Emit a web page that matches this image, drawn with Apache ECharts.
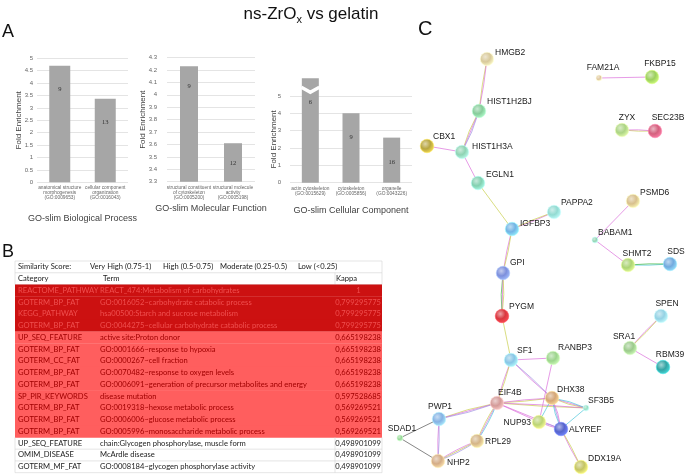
<!DOCTYPE html>
<html><head><meta charset="utf-8">
<script src="https://cdn.jsdelivr.net/npm/echarts@6/dist/echarts.min.js"></script>
<style>html,body{margin:0;padding:0;background:#fff}#c{width:685px;height:476px}</style>
</head><body><div id="c"></div>
<script>
// ---------- Panel A data ----------
const bpCategories = ['anatomical structure\nmorphogenesis\n(GO:0009653)', 'cellular component\norganization\n(GO:0016043)'];
const bpFold = [4.7, 3.37];
const bpCounts = [9, 13];
const mfCategories = ['structural constituent\nof cytoskeleton\n(GO:0005200)', 'structural molecule\nactivity\n(GO:0005198)'];
const mfFold = [4.23, 3.61];
const mfCounts = [9, 12];
const ccCategories = ['actin cytoskeleton\n(GO:0015629)', 'cytoskeleton\n(GO:0005856)', 'organelle\n(GO:0043226)'];
const ccFold = [6.03, 4.01, 2.6];
const ccCounts = [6, 9, 16];
const ccBreakAt = [[0, 5.5]];

// ---------- Panel B data ----------
const simLegend = ['Similarity Score:', 'Very High (0.75-1)', 'High (0.5-0.75)', 'Moderate (0.25-0.5)', 'Low (<0.25)'];
const tableHeader = ['Category', 'Term', 'Kappa'];
const tableCategory = ['REACTOME_PATHWAY','GOTERM_BP_FAT','KEGG_PATHWAY','GOTERM_BP_FAT','UP_SEQ_FEATURE','GOTERM_BP_FAT','GOTERM_CC_FAT','GOTERM_BP_FAT','GOTERM_BP_FAT','SP_PIR_KEYWORDS','GOTERM_BP_FAT','GOTERM_BP_FAT','GOTERM_BP_FAT','UP_SEQ_FEATURE','OMIM_DISEASE','GOTERM_MF_FAT'];
const tableTerm = ['REACT_474:Metabolism of carbohydrates','GO:0016052~carbohydrate catabolic process','hsa00500:Starch and sucrose metabolism','GO:0044275~cellular carbohydrate catabolic process','active site:Proton donor','GO:0001666~response to hypoxia','GO:0000267~cell fraction','GO:0070482~response to oxygen levels','GO:0006091~generation of precursor metabolites and energy','disease mutation','GO:0019318~hexose metabolic process','GO:0006006~glucose metabolic process','GO:0005996~monosaccharide metabolic process','chain:Glycogen phosphorylase, muscle form','McArdle disease','GO:0008184~glycogen phosphorylase activity'];
const tableKappa = [1,0.799295775,0.799295775,0.799295775,0.665198238,0.665198238,0.665198238,0.665198238,0.665198238,0.597528685,0.569269521,0.569269521,0.569269521,0.498901099,0.498901099,0.498901099];

// ---------- Panel C data ----------
const nodeNames = ['HMGB2','HIST1H2BJ','CBX1','HIST1H3A','EGLN1','PAPPA2','IGFBP3','GPI','PYGM','SF1','RANBP3','EIF4B','DHX38','SF3B5','PWP1','NUP93','ALYREF','SDAD1','RPL29','NHP2','DDX19A','FAM21A','FKBP15','ZYX','SEC23B','PSMD6','BABAM1','SHMT2','SDS','SPEN','SRA1','RBM39'];
const nodeLayout = [[487,59],[479,111],[427,146],[462,152],[478,183],[554,212],[512,229],[503,273],[502,316],[511,360],[553,358],[497,403],[552,398],[586,408],[439,419],[539,422],[561,429],[400,438],[477,441],[438,461],[581,467],[599,78],[652,77],[622,130],[655,131],[633,201],[595,240],[628,265],[670,264],[661,316],[630,348],[663,367]];
const smallNodes = ['SDAD1','SF3B5','FAM21A','BABAM1'];
const interactions = [
 ['HMGB2','HIST1H2BJ','yp'],['HIST1H2BJ','HIST1H3A','ypv'],['CBX1','HIST1H3A','p'],['HIST1H3A','EGLN1','p'],
 ['EGLN1','IGFBP3','y'],['IGFBP3','PAPPA2','py'],['IGFBP3','GPI','py'],['GPI','PYGM','gpy'],['PYGM','SF1','y'],
 ['SF1','RANBP3','p'],['SF1','EIF4B','py'],['SF1','DHX38','pv'],['RANBP3','NUP93','p'],['EIF4B','DHX38','yp'],
 ['EIF4B','SF3B5','yp'],['EIF4B','NUP93','p'],['EIF4B','ALYREF','p'],['EIF4B','PWP1','ypv'],['EIF4B','RPL29','ypc'],
 ['PWP1','NHP2','pv'],['RPL29','NHP2','pyv'],['SDAD1','PWP1','k'],['SDAD1','NHP2','k'],['DHX38','NUP93','c'],
 ['DHX38','SF3B5','ypc'],['DHX38','ALYREF','cvp'],['SF3B5','ALYREF','c'],['NUP93','ALYREF','pv'],['ALYREF','DDX19A','py'],
 ['FAM21A','FKBP15','p'],['ZYX','SEC23B','yp'],['PSMD6','BABAM1','p'],['BABAM1','SHMT2','p'],['SHMT2','SDS','cg'],
 ['SPEN','SRA1','py'],['SRA1','RBM39','p']
];

// ---------- styles ----------
const nodeColors = ['#d8c99a','#86cc9a','#b8a640','#8ed3b3','#82d0b0','#92dbd2','#72b4e4','#7c8fdc','#d83840','#88c6e6','#9cd48c','#d49a98','#d4a676','#98e0c4','#84b2e4','#bcd474','#5664cc','#98d898','#d4b486','#d4ac86','#c4c464','#e0c8a0','#9ccf5e','#acd484','#d4607e','#d8c08c','#94d4b4','#acd474','#72aade','#94d2e4','#9cca8c','#34a4a4'];
const labelPlace = {
 HMGB2:[8,-6,'left'],HIST1H2BJ:[8,-9,'left'],CBX1:[6,-9,'left'],HIST1H3A:[10,-5,'left'],EGLN1:[8,-8,'left'],
 PAPPA2:[7,-9,'left'],IGFBP3:[8,-5,'left'],GPI:[7,-10,'left'],PYGM:[7,-9,'left'],SF1:[6,-9,'left'],RANBP3:[5,-10,'left'],
 EIF4B:[1,-10,'left'],DHX38:[5,-8,'left'],SF3B5:[2,-7,'left'],PWP1:[1,-12,'center'],NUP93:[-8,1,'right'],
 ALYREF:[8,1,'left'],SDAD1:[2,-9,'center'],RPL29:[8,1,'left'],NHP2:[9,2,'left'],DDX19A:[7,-8,'left'],
 FAM21A:[4,-10,'center'],FKBP15:[8,-13,'center'],ZYX:[5,-12,'center'],SEC23B:[13,-13,'center'],PSMD6:[7,-8,'left'],
 BABAM1:[3,-7,'left'],SHMT2:[9,-11,'center'],SDS:[6,-12,'center'],SPEN:[6,-12,'center'],SRA1:[-6,-11,'center'],RBM39:[7,-12,'center']
};
const evidenceColor = {p:'#d96ad9', y:'#c6cd45', c:'#45c4d8', v:'#9c8ee0', g:'#3cb43c', k:'#4a4a4a'};

const SANS = 'Liberation Sans, Arial, sans-serif';
const lift = echarts.color.lift;
const chart = echarts.init(document.getElementById('c'));

function barPanel(i, cats, vals, counts, yMin, yMax, yInt, xName, xGap, yGap, lblMargin, barW, lblDist, clip) {
  return {
    x: {gridIndex:i, type:'category', data:cats, axisLine:{show:false}, axisTick:{show:false},
        axisLabel:{interval:0, fontSize:4.8, lineHeight:5, color:'#666', margin:3, fontFamily:SANS},
        name:xName, nameLocation:'middle', nameGap:xGap, nameMoveOverlap:false,
        nameTextStyle:{fontSize:9, color:'#404040', fontFamily:SANS}},
    y: {gridIndex:i, type:'value', min:yMin, max:yMax, interval:yInt, axisLine:{show:false}, axisTick:{show:false},
        axisLabel:{fontSize:6, color:'#666', margin:lblMargin, fontFamily:SANS},
        splitLine:{lineStyle:{color:'#e4e4e4', width:1}},
        name:'Fold Enrichment', nameLocation:'middle', nameRotate:90, nameGap:yGap, nameMoveOverlap:false,
        nameTextStyle:{fontSize:8, color:'#404040', fontFamily:SANS}},
    s: {type:'bar', xAxisIndex:i, yAxisIndex:i, data:vals, barWidth:barW, clip:clip,
        itemStyle:{color:'#a6a6a6'}, silent:true,
        label:{show:true, position:'insideTop', distance:lblDist, fontSize:6.5, color:'#333',
               fontFamily:'Liberation Serif, serif', formatter:p=>String(counts[p.dataIndex])}}
  };
}
const p1 = barPanel(0, bpCategories, bpFold, bpCounts, 0, 5, 0.5, 'GO-slim Biological Process', 32, 14, 4, 21, 20, true);
const p2 = barPanel(1, mfCategories, mfFold, mfCounts, 3.3, 4.3, 0.1, 'GO-slim Molecular Function', 22, 20, 10, 18, 17, true);
const p3 = barPanel(2, ccCategories, ccFold, ccCounts, 0, 5, 1, 'GO-slim Cellular Component', 23, 12, 9, 17, 21, false);

// network
const nodes = nodeNames.map((n,i)=>{
  const c = nodeColors[i];
  const lp = labelPlace[n];
  return {
    name:n, value:nodeLayout[i], symbolSize: smallNodes.includes(n)?6:13.5,
    itemStyle:{color:{type:'radial', x:0.38, y:0.35, r:0.72, colorStops:[{offset:0,color:lift(c,0.55)},{offset:0.5,color:c},{offset:1,color:lift(c,-0.35)}]},
               borderColor:lift(c,-0.4), borderWidth:0.6},
    label:{show:true, position:'inside', offset:[lp[0],lp[1]], align:lp[2], verticalAlign:'middle',
           fontSize:8.5, color:'#1a1a1a', fontFamily:SANS}
  };
});
const links = [];
interactions.forEach(([s,t,ev])=>{
  const a = nodeLayout[nodeNames.indexOf(s)], b = nodeLayout[nodeNames.indexOf(t)];
  const L = Math.hypot(b[0]-a[0], b[1]-a[1]);
  const n = ev.length;
  ev.split('').forEach((e,k)=>{
    const off = (k-(n-1)/2)*1.3;
    links.push({source:s, target:t, lineStyle:{color:evidenceColor[e], width:0.9, opacity:0.75, curveness:2*off/L}});
  });
});

// table graphics
const T = {left:15, right:382, top:261, rowH:11.76, catX:18, termX:100, kappaL:335};
const TF = 'Lato, Noto Sans, sans-serif';
const gfx = [];
function txt(x,y,t,fill,align){ gfx.push({type:'text', x, y, silent:true, style:{text:t, fill, fontSize:7.6, fontFamily:TF, align:align||'left', verticalAlign:'middle'}}); }
function hline(y){ gfx.push({type:'line', silent:true, shape:{x1:T.left,y1:y,x2:T.right,y2:y}, style:{stroke:'#d4d4d4', lineWidth:0.6}}); }
function vline(x,y1,y2){ gfx.push({type:'line', silent:true, shape:{x1:x,y1,x2:x,y2}, style:{stroke:'#d4d4d4', lineWidth:0.6}}); }
const legendX = [18, 90, 163, 220, 298];
simLegend.forEach((t,i)=>txt(legendX[i], T.top+T.rowH/2, t, '#222'));
const hy = T.top + T.rowH*1.5;
txt(T.catX, hy, tableHeader[0], '#222'); txt(T.termX+3, hy, tableHeader[1], '#222'); txt(T.kappaL+1, hy, tableHeader[2], '#222');
hline(T.top); hline(T.top+T.rowH); hline(T.top+2*T.rowH);
vline(T.kappaL, T.top+T.rowH, T.top+2*T.rowH); vline(T.right, T.top, T.top+2*T.rowH); vline(T.left, T.top, T.top+2*T.rowH);
tableKappa.forEach((k,i)=>{
  const y0 = T.top + (i+2)*T.rowH, yc = y0 + T.rowH/2;
  let fill = null, tc = '#222';
  if (k >= 0.75) { fill = '#cc1111'; tc = '#f05050'; }
  else if (k >= 0.5) { fill = '#ff5e5e'; tc = '#a00000'; }
  if (fill) gfx.push({type:'rect', silent:true, shape:{x:T.left, y:y0, width:T.right-T.left, height:T.rowH+0.3}, style:{fill}});
  else { hline(y0+T.rowH); vline(T.kappaL, y0, y0+T.rowH); vline(T.right, y0, y0+T.rowH); vline(T.left, y0, y0+T.rowH); }
  txt(T.catX, yc, tableCategory[i], tc);
  txt(T.termX, yc, tableTerm[i], tc);
  if (k === 1) txt((T.kappaL+T.right)/2, yc, '1', tc, 'center');
  else txt(T.right-1, yc, k.toFixed(9).replace('.', ','), tc, 'right');
});
// title and panel letters
gfx.push({type:'text', x:311, y:14, silent:true, style:{text:'{a|ns-ZrO}{b|x}{a| vs gelatin}', align:'center', verticalAlign:'middle',
  rich:{a:{fontSize:17, fontFamily:SANS, fill:'#111', lineHeight:22}, b:{fontSize:11, fontFamily:SANS, fill:'#111', lineHeight:22, verticalAlign:'bottom'}}}});
gfx.push({type:'text', x:2, y:32, silent:true, style:{text:'A', fontSize:18, fontFamily:SANS, fill:'#111', verticalAlign:'middle'}});
gfx.push({type:'text', x:2, y:252, silent:true, style:{text:'B', fontSize:18, fontFamily:SANS, fill:'#111', verticalAlign:'middle'}});
gfx.push({type:'text', x:418, y:29, silent:true, style:{text:'C', fontSize:20, fontFamily:SANS, fill:'#111', verticalAlign:'middle'}});

const option = {
  animation:false, backgroundColor:'#fff',
  grid:[
    {left:37, top:58.3, width:91, height:124, outerBoundsMode:'none'},
    {left:167, top:57.6, width:88, height:124.1, outerBoundsMode:'none'},
    {left:290, top:96, width:122, height:86.7, outerBoundsMode:'none'},
    {left:0, top:0, width:685, height:476, outerBoundsMode:'none'}
  ],
  xAxis:[p1.x, p2.x, p3.x, {gridIndex:3, type:'value', min:0, max:685, show:false}],
  yAxis:[p1.y, p2.y, p3.y, {gridIndex:3, type:'value', min:0, max:476, inverse:true, show:false}],
  series:[p1.s, p2.s, p3.s,
    {type:'custom', xAxisIndex:2, yAxisIndex:2, clip:false, silent:true, z:5, data:ccBreakAt,
     renderItem:(params, api)=>{ const p = api.coord([api.value(0), api.value(1)]); const hw = 9;
       return {type:'polyline', shape:{points:[[p[0]-hw,p[1]],[p[0],p[1]+5],[p[0]+hw,p[1]]]}, style:{stroke:'#fff', lineWidth:3.5, fill:null}}; }},
    {type:'graph', coordinateSystem:'cartesian2d', xAxisIndex:3, yAxisIndex:3, layout:'none', silent:true,
     data:nodes, links:links, edgeSymbol:['none','none'], emphasis:{disabled:true}, z:3}
  ],
  graphic:gfx
};
chart.setOption(option);
</script></body></html>
